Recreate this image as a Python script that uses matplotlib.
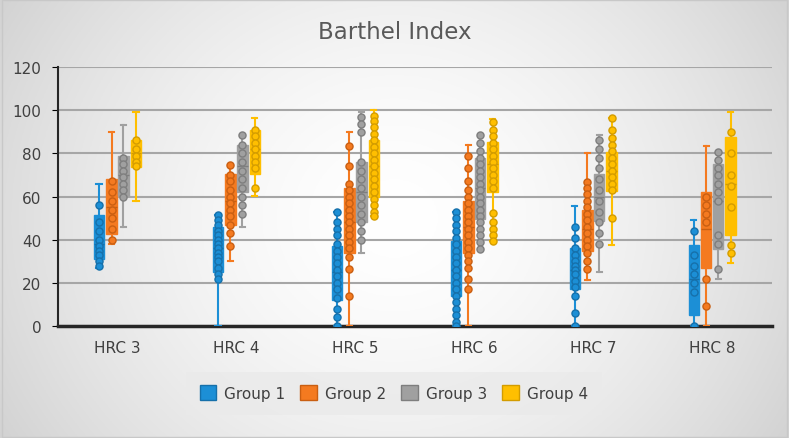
import matplotlib.pyplot as plt
import numpy as np
from matplotlib.patches import Patch

categories = ["HRC 3", "HRC 4", "HRC 5", "HRC 6", "HRC 7", "HRC 8"]
groups = ["Group 1", "Group 2", "Group 3", "Group 4"]
colors = ["#1C8FD6", "#F47A20", "#A0A0A0", "#FFBF00"]
edges = ["#1670AA", "#C95F12", "#7E7E7E", "#D39C00"]

# box summaries: low whisker, q1, median, q3, high whisker
g1_lo = [27, 0, 0, 0, 0, 0]
g1_q1 = [31, 25, 12, 14, 17, 5]
g1_med = [38, 36, 25, 26, 26, 22]
g1_q3 = [51.5, 46, 37, 39.5, 36, 37.7]
g1_hi = [66, 51.6, 53, 52.7, 55.7, 49]

g2_lo = [38, 30, 0, 0, 21.5, 0]
g2_q1 = [42.6, 47, 34, 34, 35, 26.7]
g2_med = [55, 58, 48, 46, 45, 45]
g2_q3 = [68, 70.4, 64, 58, 54, 62]
g2_hi = [90, 74.6, 90, 84, 80, 83.3]

g3_lo = [46, 46, 34, 35.7, 24.9, 21.8]
g3_q1 = [60.4, 62, 48, 49.6, 48.8, 35.7]
g3_med = [70, 74, 62, 64, 60, 58]
g3_q3 = [79, 84, 75.8, 78, 70.4, 75]
g3_hi = [93, 88.5, 99.3, 88.5, 88.5, 80.8]

g4_lo = [57.8, 60.4, 50.8, 39.5, 37.5, 29]
g4_q1 = [73.5, 70.4, 59.6, 62, 62.7, 42.2]
g4_med = [80, 82, 74, 75, 72, 66]
g4_q3 = [86.3, 91, 86.3, 85.4, 80.5, 87.4]
g4_hi = [99.3, 96.2, 100, 96, 96.2, 99.3]

# visible data points per box
g1_pts = [
    [56, 48, 44, 40, 37, 35, 33, 30, 28],
    [51.6, 49, 47, 44, 42, 40, 38, 36, 34, 32, 30, 27, 24, 22],
    [53, 48, 45, 42, 38, 35, 32, 29, 26, 23, 20, 17, 13, 8, 4, 0],
    [52.7, 50, 47, 44, 41, 38, 35, 32, 29, 26, 23, 20, 17, 14, 11, 8, 5, 2, 0],
    [45.7, 41, 36, 33, 30, 28, 26, 24, 21, 18, 14, 6, 0],
    [44, 33, 28, 24, 20, 16, 0],
]
g2_pts = [
    [67, 62, 58, 54, 50, 45, 40],
    [74.6, 70, 67, 63, 60, 57, 54, 51, 47, 43, 37],
    [83.4, 74, 66, 63, 60, 57, 54, 51, 48, 45, 42, 39, 36, 32, 26.4, 14],
    [78.6, 73, 67, 63, 60, 57, 54, 51, 48, 45, 42, 39, 36, 33, 30, 27, 22, 17],
    [66.6, 64, 61, 58, 55, 52, 49, 46, 43, 40, 37, 34, 30, 26.4],
    [60, 56, 52, 48, 21.8, 9.4],
]
g3_pts = [
    [78, 75, 72, 69, 66, 63, 60],
    [88.5, 84, 80, 76, 72, 68, 64, 60, 56, 52],
    [97, 93.6, 90, 76, 72, 68, 64, 60, 56, 52, 48, 44, 40],
    [88.5, 85, 81, 78, 75, 72, 69, 66, 63, 60, 57, 54, 51, 48, 45, 42, 39, 35.7],
    [86, 82, 78, 73, 68, 63, 58, 53, 48, 43, 38],
    [80.8, 77, 73, 70, 66, 62, 58, 42, 38, 26.4],
]
g4_pts = [
    [86, 82, 79, 76, 74],
    [91, 88, 85, 82, 79, 76, 73, 64],
    [97.5, 95, 92, 89, 86, 83, 80, 77, 74, 71, 68, 65, 62, 59, 56, 53, 50.8],
    [94.4, 91, 88, 85, 82, 79, 76, 73, 70, 67, 64, 52.4, 48, 45, 42, 39.5],
    [96.2, 91, 87, 84, 81, 78, 75, 72, 69, 66, 63, 50],
    [89.7, 80, 70, 65, 55, 37.5, 34],
]

summaries = [
    (g1_lo, g1_q1, g1_med, g1_q3, g1_hi, g1_pts),
    (g2_lo, g2_q1, g2_med, g2_q3, g2_hi, g2_pts),
    (g3_lo, g3_q1, g3_med, g3_q3, g3_hi, g3_pts),
    (g4_lo, g4_q1, g4_med, g4_q3, g4_hi, g4_pts),
]

fig = plt.figure(figsize=(7.89, 4.39), dpi=100)

# background gradient like the excel chart area
bg = fig.add_axes([0, 0, 1, 1], zorder=-10)
yy, xx = np.mgrid[-1:1:200j, -1:1:360j]
r = np.sqrt((xx * 0.9) ** 2 + (yy * 0.55) ** 2)
shade = 1.0 - 0.16 * np.clip(r, 0, 1.3) ** 1.6
bg.imshow(np.dstack([shade] * 3), aspect="auto", extent=[0, 1, 0, 1])
bg.set_xlim(0, 1)
bg.set_ylim(0, 1)
bg.axis("off")
bg.add_patch(plt.Rectangle((0.002, 0.003), 0.996, 0.994, fill=False,
                           edgecolor="#C8C8C8", lw=1))

ax = fig.add_axes([0.0735, 0.255, 0.9045, 0.59])
ax.patch.set_alpha(0)

offsets = [-0.155, -0.05, 0.05, 0.155]
w = 0.088
x = np.arange(len(categories))

for gi, (lo, q1, med, q3, hi, pts) in enumerate(summaries):
    stats = []
    for ci in range(len(categories)):
        stats.append(dict(whislo=lo[ci], q1=q1[ci], med=med[ci], q3=q3[ci],
                          whishi=hi[ci], fliers=[]))
    pos = x + offsets[gi]
    ax.bxp(stats, positions=pos, widths=w, patch_artist=True, showfliers=False,
           boxprops=dict(facecolor=colors[gi], edgecolor=colors[gi], lw=1),
           medianprops=dict(color=edges[gi], lw=1),
           whiskerprops=dict(color=colors[gi], lw=1.5),
           capprops=dict(color=colors[gi], lw=1.5),
           capwidths=w * 0.5, manage_ticks=False, zorder=3)
    for ci in range(len(categories)):
        ax.scatter(np.full(len(pts[ci]), pos[ci]), pts[ci], s=26,
                   facecolor=colors[gi], edgecolor=edges[gi], lw=1, zorder=4)

ax.set_xlim(-0.5, 5.5)
ax.set_ylim(0, 120)
ax.set_yticks(np.arange(0, 121, 20))
ax.set_xticks(x)
ax.set_xticklabels(categories)
ax.yaxis.grid(True, color="#A6A6A6", lw=1.5)
ax.set_axisbelow(True)
for s in ["top", "right"]:
    ax.spines[s].set_visible(False)
ax.spines["left"].set_color("#262626")
ax.spines["left"].set_linewidth(1.5)
ax.spines["bottom"].set_color("#262626")
ax.spines["bottom"].set_linewidth(2.5)
ax.tick_params(axis="x", length=0, pad=10, labelsize=11, labelcolor="#404040")
ax.tick_params(axis="y", length=4, labelsize=11, labelcolor="#404040", pad=8)

fig.text(0.5, 0.925, "Barthel Index", ha="center", va="center", fontsize=16.5,
         color="#595959")

handles = [Patch(facecolor=colors[i], edgecolor=edges[i], label=groups[i])
           for i in range(4)]
leg = fig.legend(handles=handles, loc="center", bbox_to_anchor=(0.499, 0.102),
                 ncol=4, frameon=True, fontsize=11, handlelength=1.1,
                 handleheight=1.1, columnspacing=1.0, handletextpad=0.5,
                 borderpad=0.9)
leg.get_frame().set_facecolor("#EAEAEA")
leg.get_frame().set_edgecolor("none")
leg.get_frame().set_boxstyle("square", pad=0.0)
for t in leg.get_texts():
    t.set_color("#404040")

fig.savefig("out.png", dpi=100)
